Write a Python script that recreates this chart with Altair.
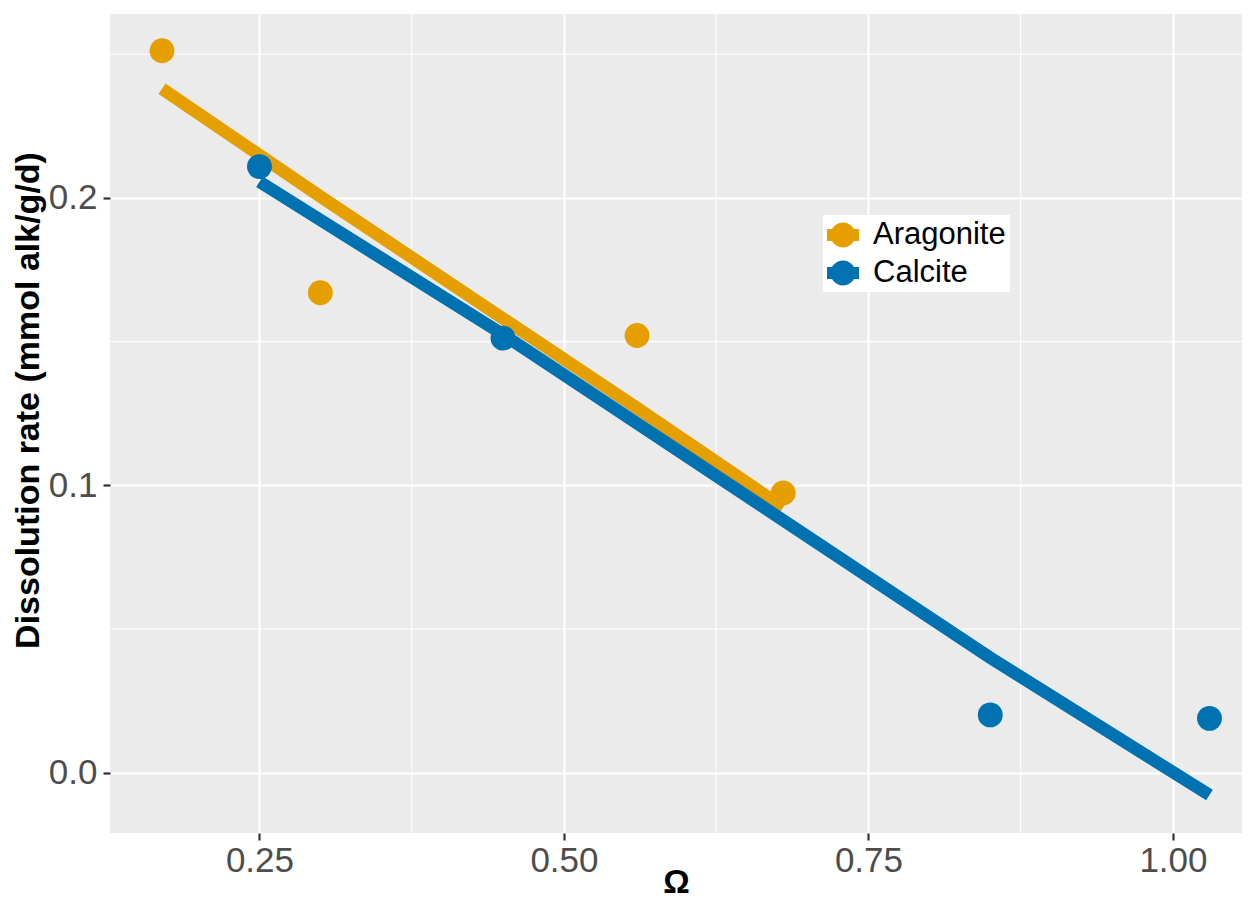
import altair as alt
import pandas as pd

# ---- data ----
arag_omega = [0.170, 0.300, 0.560, 0.680]
arag_rate = [0.2512, 0.1670, 0.1521, 0.0973]
arag_fit = [0.2380, 0.2005, 0.1269, 0.0923]

calc_omega = [0.250, 0.450, 0.850, 1.030]
calc_rate = [0.2109, 0.1512, 0.0201, 0.0189]
calc_fit = [0.2056, 0.1525, 0.0400, -0.0078]

minerals = ["Aragonite", "Calcite"]
colors = ["#E69F00", "#0072B2"]

x_ticks = [0.25, 0.50, 0.75, 1.00]
y_ticks = [0.0, 0.1, 0.2]
x_minor = [0.375, 0.625, 0.875]
y_minor = [0.05, 0.15, 0.25]

x_domain = [0.1273, 1.0567]
y_domain = [-0.0210, 0.2640]

rows = []
for m, xs, ys, fs in [("Aragonite", arag_omega, arag_rate, arag_fit),
                      ("Calcite", calc_omega, calc_rate, calc_fit)]:
    for xv, yv, fv in zip(xs, ys, fs):
        rows.append({"mineral": m, "omega": xv, "rate": yv, "fit": fv})
df = pd.DataFrame(rows)

FONT = "Liberation Sans"

xscale = alt.Scale(domain=x_domain, nice=False, zero=False)
yscale = alt.Scale(domain=y_domain, nice=False, zero=False)

xaxis = alt.Axis(values=x_ticks, format=".2f", title="Ω", labelFontSize=35,
                 labelPadding=3, titleFontSize=33, titleY=59,
                 titleBaseline="alphabetic")
yaxis = alt.Axis(values=y_ticks, format=".1f",
                 title="Dissolution rate (mmol alk/g/d)", labelFontSize=35,
                 labelPadding=6, titleFontSize=34, titleX=-65, titleY=386)

minor_x = alt.Chart(pd.DataFrame({"v": x_minor})).mark_rule(
    color="white", strokeWidth=1.1).encode(x=alt.X("v:Q", scale=xscale, axis=xaxis))
minor_y = alt.Chart(pd.DataFrame({"v": y_minor})).mark_rule(
    color="white", strokeWidth=1.1).encode(y=alt.Y("v:Q", scale=yscale, axis=yaxis))

line_layers = []
for m, c in zip(minerals, colors):
    line_layers.append(
        alt.Chart(df).transform_filter(alt.datum.mineral == m)
        .mark_line(strokeWidth=12.5, strokeCap="butt", color=c)
        .encode(
            x=alt.X("omega:Q", scale=xscale, axis=xaxis),
            y=alt.Y("fit:Q", scale=yscale, axis=yaxis),
        )
    )

key_path = ("M -1 -0.375 L 1 -0.375 L 1 0.375 L -1 0.375 Z "
            "M 0.78 0 A 0.78 0.78 0 1 1 -0.78 0 A 0.78 0.78 0 1 1 0.78 0 Z")

points = alt.Chart(df).mark_point(filled=True, size=620, opacity=1, strokeWidth=0).encode(
    x=alt.X("omega:Q", scale=xscale, axis=xaxis),
    y=alt.Y("rate:Q", scale=yscale, axis=yaxis),
    fill=alt.Fill(
        "mineral:N", scale=alt.Scale(domain=minerals, range=colors), title=None,
        legend=alt.Legend(orient="none", legendX=713, legendY=201,
                          fillColor="white", padding=4,
                          symbolType=key_path, symbolSize=1024,
                          symbolStrokeWidth=0, symbolOpacity=1,
                          labelFontSize=31, labelFont=FONT, labelColor="black",
                          labelOffset=14, rowPadding=7),
    ),
)

chart = alt.layer(minor_x, minor_y, *line_layers, points).properties(
    width=1132, height=819,
    autosize=alt.AutoSizeParams(type="none"),
    padding={"left": 102, "top": 6, "right": 0, "bottom": 69},
).configure_view(fill="#EBEBEB", strokeWidth=0).configure_axis(
    grid=True, gridColor="white", gridWidth=2.2, domain=False,
    tickColor="#333333", tickWidth=2.2, tickSize=7,
    labelColor="#4D4D4D", labelFont=FONT, titleFont=FONT,
    titleFontWeight="bold", titleColor="black",
)

chart.save("out.html", embed_options={"renderer": "svg", "actions": False})
